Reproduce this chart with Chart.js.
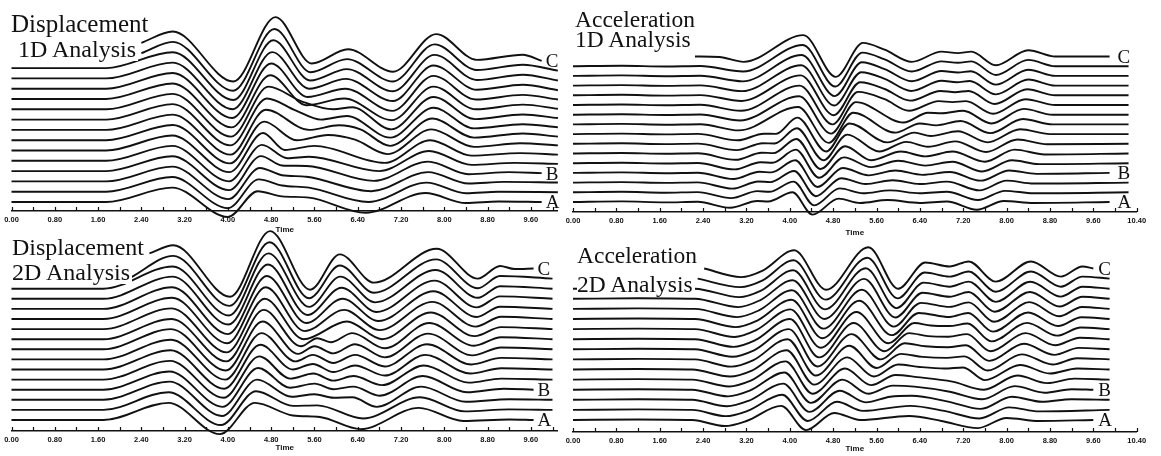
<!DOCTYPE html>
<html>
<head>
<meta charset="utf-8">
<script src="https://cdn.jsdelivr.net/npm/chart.js@4.4.1/dist/chart.umd.min.js"></script>
<style>
  html, body { margin: 0; background: #fff; }
  #page { position: relative; width: 1161px; height: 456px; overflow: hidden; background: #fff; }
  #page canvas { position: absolute; }
  .head { position: absolute; font-family: "Liberation Serif", "DejaVu Serif", serif; color: #111;
          background: #fff; white-space: nowrap; padding-right: 2px; }
  .tag { position: absolute; font-family: "Liberation Serif", "DejaVu Serif", serif; color: #111;
         font-size: 19px; line-height: 19px; white-space: nowrap; }
</style>
</head>
<body>
<div id="page"></div>
<script>
// ---------------- DATA ----------------
// each trace is a list of [time (s), amplitude],
// amplitude in units of the trace spacing; trace 0 = A (bottom), 15 = C (top)
const displ1D = [
  [[0,0],[1.75,0],[2.97,1.4],[4.0,-1.45],[4.55,1.05],[5.0,0.55],[5.5,0.42],[6.55,-1.05],[7.65,0.87],[8.4,-0.1],[9.0,0.05],[9.8,0]],
  [[0,0],[1.75,0],[2.97,1.42],[4.0,-1.6],[4.57,1.2],[5.0,0.6],[5.5,0.4],[6.6,-1.0],[7.67,0.88],[8.4,-0.15],[9.0,0],[10.1,-0.05]],
  [[0,0],[1.75,0],[2.97,1.43],[4.01,-1.72],[4.59,1.3],[5.0,0.6],[5.45,0.45],[6.65,-0.95],[7.7,0.9],[8.45,-0.2],[9.1,-0.05],[10.1,-0.1]],
  [[0,0],[1.75,0],[2.97,1.44],[4.02,-1.85],[4.61,1.45],[5.0,0.55],[5.45,0.5],[6.7,-0.95],[7.7,0.92],[8.45,-0.3],[9.2,-0.1],[9.8,-0.2]],
  [[0,0],[1.75,0],[2.97,1.45],[4.02,-2.0],[4.63,1.55],[5.1,0.25],[5.5,0.4],[6.8,-1.0],[7.72,0.95],[8.5,-0.4],[9.3,-0.2],[10.1,-0.3]],
  [[0,0],[1.75,0],[2.97,1.46],[4.03,-2.1],[4.65,1.7],[5.05,0.05],[5.6,0.45],[6.9,-1.2],[7.74,1.0],[8.5,-0.5],[9.4,-0.25],[10.1,-0.4]],
  [[0,0],[1.75,0],[2.98,1.47],[4.04,-2.25],[4.67,1.8],[5.27,0.0],[5.85,0.5],[6.35,0.05],[6.95,-1.35],[7.76,1.05],[8.55,-0.65],[9.4,-0.3],[10.1,-0.5]],
  [[0,0],[1.75,0],[2.98,1.48],[4.05,-2.4],[4.7,1.95],[5.5,0.0],[6.05,0.45],[6.45,0.05],[7.0,-1.55],[7.78,1.1],[8.55,-0.75],[9.45,-0.35],[10.1,-0.65]],
  [[0,0],[1.75,0],[2.98,1.5],[4.05,-2.5],[4.72,2.05],[5.25,0.9],[5.72,0.0],[6.2,0.35],[7.0,-1.75],[7.8,1.15],[8.55,-0.85],[9.45,-0.45],[10.1,-0.75]],
  [[0,0],[1.75,0],[2.98,1.5],[4.06,-2.65],[4.75,2.2],[5.35,0.8],[5.95,0.0],[6.3,0.2],[7.02,-1.95],[7.8,1.2],[8.57,-0.95],[9.45,-0.5],[10.1,-0.85]],
  [[0,0],[1.75,0],[2.98,1.51],[4.07,-2.75],[4.78,2.3],[5.45,-0.6],[6.15,0.05],[7.03,-2.05],[7.8,1.2],[8.58,-1.0],[9.45,-0.55],[10.1,-0.95]],
  [[0,0],[1.75,0],[2.98,1.52],[4.08,-2.85],[4.8,2.45],[5.47,-0.8],[6.17,0.0],[7.04,-2.15],[7.8,1.25],[8.58,-1.05],[9.45,-0.6],[10.1,-1.05]],
  [[0,0],[1.75,0],[2.98,1.53],[4.09,-3.0],[4.82,2.55],[5.5,-1.0],[6.18,-0.05],[7.05,-2.2],[7.8,1.25],[8.6,-1.1],[9.45,-0.62],[10.1,-1.15]],
  [[0,0],[1.75,0],[2.98,1.54],[4.1,-3.1],[4.84,2.7],[5.52,-1.2],[6.2,-0.1],[7.05,-2.25],[7.82,1.28],[8.6,-1.15],[9.45,-0.65],[10.1,-1.2]],
  [[2.4,0.45],[2.98,1.55],[4.1,-3.2],[4.86,2.8],[5.53,-1.4],[6.2,-0.13],[7.05,-2.3],[7.82,1.3],[8.6,-1.18],[9.45,-0.68],[10.1,-1.25]],
  [[2.4,0.45],[2.98,1.55],[4.1,-3.3],[4.88,2.95],[5.55,-1.55],[6.22,-0.17],[7.05,-2.35],[7.85,1.3],[8.6,-1.2],[9.45,-0.7],[9.8,-1.3]]
];

const accel1D = [
  [[0,0],[0.9,0.06],[1.7,-0.04],[2.3,0.02],[2.9,-0.6],[3.4,0.1],[3.6,0.05],[4.05,1.0],[4.42,-1.3],[4.9,0.35],[5.3,-0.1],[5.8,0.2],[6.4,-0.1],[6.9,0.05],[7.45,-0.8],[7.95,0.1],[8.5,-0.1],[9.9,0]],
  [[0,0],[0.9,0.05],[1.7,-0.04],[2.3,0.02],[2.92,-0.6],[3.4,0.12],[3.62,0.05],[4.07,1.1],[4.45,-1.35],[4.92,0.4],[5.35,-0.1],[5.85,0.2],[6.4,-0.1],[6.9,0.05],[7.47,-0.8],[7.97,0.15],[8.5,-0.1],[10.25,0]],
  [[0,0],[0.9,0.05],[1.7,-0.03],[2.3,0.02],[2.94,-0.62],[3.42,0.12],[3.64,0.05],[4.08,1.2],[4.48,-1.4],[4.95,0.45],[5.4,-0.15],[5.9,0.25],[6.4,-0.15],[6.9,0.1],[7.5,-0.8],[8.0,0.2],[8.5,-0.1],[10.25,0]],
  [[0,0],[0.9,0.05],[1.7,-0.03],[2.3,0.02],[2.96,-0.63],[3.44,0.12],[3.66,0.05],[4.1,1.3],[4.51,-1.45],[4.98,0.5],[5.45,-0.25],[5.95,0.25],[6.45,-0.2],[6.95,0.1],[7.52,-0.8],[8.05,0.25],[8.55,-0.1],[9.9,0]],
  [[0,0],[0.9,0.05],[1.7,-0.03],[2.3,0.02],[2.98,-0.64],[3.46,0.1],[3.68,0.05],[4.11,1.4],[4.54,-1.5],[5.0,0.6],[5.5,-0.4],[6.0,0.25],[6.5,-0.25],[7.0,0.15],[7.55,-0.85],[8.1,0.3],[8.6,-0.1],[10.25,0]],
  [[0,0],[0.9,0.05],[1.7,-0.03],[2.3,0.02],[3.0,-0.65],[3.48,0.08],[3.7,0.04],[4.12,1.5],[4.57,-1.6],[5.02,0.75],[5.5,-0.7],[6.05,0.2],[6.5,-0.3],[7.0,0.2],[7.6,-0.85],[8.15,0.4],[8.7,-0.1],[10.25,0]],
  [[0,0],[0.9,0.05],[1.7,-0.03],[2.3,0.02],[3.02,-0.65],[3.5,0.06],[3.72,0.03],[4.13,1.6],[4.62,-1.7],[5.06,0.95],[5.65,-0.8],[6.15,0.2],[6.55,-0.3],[7.05,0.25],[7.62,-0.85],[8.2,0.45],[8.75,-0.05],[10.25,0]],
  [[0,0],[0.9,0.05],[1.7,-0.03],[2.3,0.02],[3.04,-0.64],[3.52,0.04],[3.74,0.02],[4.14,1.7],[4.67,-1.8],[5.1,1.1],[5.8,-0.85],[6.3,0.15],[6.6,-0.2],[7.1,0.3],[7.65,-0.85],[8.25,0.5],[8.8,0],[10.25,0]],
  [[0,0],[0.9,0.05],[1.7,-0.03],[2.35,0.02],[3.06,-0.62],[4.15,1.8],[4.72,-1.9],[5.17,1.2],[5.95,-0.85],[6.4,0.1],[6.7,-0.1],[7.15,0.35],[7.7,-0.9],[8.3,0.55],[8.85,0],[10.25,0]],
  [[0,0],[0.9,0.05],[1.7,-0.03],[2.35,0.02],[3.08,-0.6],[4.17,1.9],[4.76,-1.95],[5.22,1.3],[6.1,-0.8],[6.55,0.2],[6.8,0.15],[7.2,0.4],[7.72,-0.9],[8.32,0.6],[8.85,0],[10.25,0]],
  [[0,0],[0.9,0.05],[1.7,-0.03],[2.35,0.02],[3.1,-0.6],[4.18,2.0],[4.79,-2.0],[5.26,1.35],[5.75,0.6],[6.2,-0.6],[6.75,0.4],[7.0,0.3],[7.25,0.4],[7.75,-0.9],[8.35,0.6],[8.9,0],[10.25,0]],
  [[0,0],[0.9,0.05],[1.7,-0.03],[2.35,0.02],[3.11,-0.58],[4.2,2.05],[4.81,-2.05],[5.3,1.35],[5.75,0.65],[6.22,-0.55],[6.78,0.45],[7.05,0.32],[7.3,0.45],[7.78,-0.9],[8.38,0.62],[8.9,0],[10.25,0]],
  [[0,0],[0.9,0.05],[1.7,-0.03],[2.35,0.02],[3.12,-0.57],[4.21,2.1],[4.82,-2.05],[5.32,1.38],[5.75,0.7],[6.24,-0.55],[6.8,0.5],[7.08,0.34],[7.32,0.47],[7.8,-0.9],[8.4,0.63],[8.9,0],[10.25,0]],
  [[0,0],[0.9,0.05],[1.7,-0.03],[2.35,0.02],[3.13,-0.56],[4.22,2.15],[4.83,-2.08],[5.33,1.4],[5.75,0.7],[6.25,-0.55],[6.8,0.5],[7.1,0.35],[7.34,0.48],[7.8,-0.9],[8.4,0.64],[8.9,0],[10.25,0]],
  [[0,0],[0.9,0.05],[1.7,-0.03],[2.35,0.02],[3.14,-0.55],[4.24,2.18],[4.84,-2.1],[5.34,1.4],[5.75,0.7],[6.25,-0.55],[6.8,0.5],[7.1,0.35],[7.35,0.5],[7.8,-0.9],[8.4,0.65],[8.9,0],[10.25,0]],
  [[2.25,0],[2.7,-0.05],[3.15,-0.55],[4.25,2.2],[4.85,-2.1],[5.35,1.4],[5.75,0.7],[6.25,-0.55],[6.8,0.5],[7.1,0.35],[7.35,0.5],[7.8,-0.9],[8.4,0.65],[8.9,0],[9.9,0]]
];

const displ2D = [
  [[0,0],[1.7,0],[2.9,1.7],[3.85,-1.4],[4.5,1.7],[5.2,0.45],[5.7,0.3],[6.45,-0.9],[7.53,1.2],[8.35,-0.1],[9.2,0.05],[9.65,0]],
  [[0,0],[1.7,0],[2.9,1.75],[3.87,-1.5],[4.52,1.85],[5.2,0.4],[5.65,0.45],[6.5,-0.85],[7.55,1.25],[8.38,-0.15],[9.2,0.05],[10.0,0]],
  [[0,0],[1.7,0],[2.92,1.8],[3.89,-1.6],[4.54,2.0],[5.18,0.3],[5.6,0.55],[5.95,0.2],[6.3,0.25],[6.75,-0.7],[7.57,1.3],[8.4,-0.2],[9.2,0.05],[10.0,0]],
  [[0,0],[1.7,0],[2.92,1.8],[3.9,-1.7],[4.56,2.15],[5.15,0.2],[5.6,0.6],[5.95,0.05],[6.32,0.3],[6.8,-0.6],[7.6,1.35],[8.42,-0.25],[9.1,0.1],[9.65,0]],
  [[0,0],[1.7,0],[2.93,1.85],[3.92,-1.8],[4.58,2.3],[5.15,0.1],[5.58,0.6],[5.95,-0.1],[6.32,0.35],[6.85,-0.55],[7.62,1.4],[8.45,-0.3],[9.05,0.1],[10.0,0]],
  [[0,0],[1.7,0],[2.94,1.9],[3.93,-1.9],[4.6,2.45],[5.2,0.0],[5.57,0.55],[5.95,-0.25],[6.35,0.4],[6.9,-0.6],[7.65,1.45],[8.48,-0.4],[9.05,0.12],[10.0,0]],
  [[0,0],[1.7,0],[2.95,1.95],[3.95,-2.0],[4.62,2.6],[5.25,-0.2],[5.57,0.45],[5.95,-0.35],[6.35,0.45],[6.9,-0.7],[7.68,1.5],[8.5,-0.5],[9.05,0.15],[10.0,0]],
  [[0,0],[1.7,0],[2.95,2.0],[3.96,-2.1],[4.64,2.75],[5.3,-0.45],[5.6,0.3],[5.95,-0.4],[6.35,0.5],[6.9,-0.8],[7.7,1.55],[8.52,-0.6],[9.05,0.18],[10.0,0]],
  [[0,0],[1.7,0],[2.96,2.0],[3.97,-2.2],[4.66,2.9],[5.35,-0.7],[5.65,0.1],[5.9,-0.3],[6.3,0.6],[6.9,-0.9],[7.72,1.6],[8.55,-0.65],[9.05,0.2],[10.0,0]],
  [[0,0],[1.7,0],[2.96,2.05],[3.98,-2.3],[4.68,3.0],[5.4,-1.0],[6.2,0.75],[6.85,-1.0],[7.75,1.65],[8.56,-0.7],[9.05,0.2],[10.0,0]],
  [[0,0],[1.7,0],[2.97,2.1],[3.99,-2.4],[4.7,3.15],[5.42,-1.2],[6.15,0.9],[6.8,-1.1],[7.78,1.7],[8.58,-0.75],[9.05,0.22],[10.0,0]],
  [[0,0],[1.7,0],[2.97,2.15],[4.0,-2.5],[4.72,3.25],[5.45,-1.4],[6.12,1.0],[6.78,-1.2],[7.8,1.75],[8.6,-0.8],[9.03,0.22],[10.0,0]],
  [[0,0],[1.7,0],[2.98,2.2],[4.01,-2.55],[4.74,3.4],[5.47,-1.6],[6.1,1.1],[6.75,-1.3],[7.82,1.8],[8.6,-0.85],[9.03,0.24],[10.0,0]],
  [[0,0],[1.7,0],[2.98,2.2],[4.02,-2.65],[4.75,3.5],[5.5,-1.8],[6.08,1.2],[6.72,-1.35],[7.84,1.85],[8.62,-0.9],[9.03,0.25],[10.0,0]],
  [[2.2,0.1],[2.99,2.25],[4.03,-2.7],[4.77,3.6],[5.5,-1.95],[6.07,1.3],[6.7,-1.4],[7.85,1.9],[8.62,-0.95],[9.03,0.25],[10.0,0]],
  [[2.55,1.5],[2.99,2.3],[4.04,-2.8],[4.78,3.7],[5.52,-2.1],[6.07,1.4],[6.7,-1.4],[7.86,1.95],[8.62,-1.0],[9.03,0.25],[9.3,-0.05],[9.65,0]]
];

const accel2D = [
  [[0,0],[1.2,0.05],[2.2,0],[2.8,-0.6],[3.2,-0.1],[3.84,1.4],[4.3,-1.0],[4.82,0.7],[5.3,0.0],[6.2,0.4],[6.8,-0.1],[7.47,-0.8],[8.0,0.2],[8.6,-0.1],[9.6,0]],
  [[0,0],[1.2,0.05],[2.2,0],[2.82,-0.62],[3.22,-0.1],[3.86,1.5],[4.33,-1.1],[4.87,0.8],[5.35,-0.1],[6.22,0.4],[6.85,-0.1],[7.5,-0.85],[8.05,0.25],[8.6,-0.15],[9.9,0]],
  [[0,0],[1.2,0.05],[2.2,0],[2.84,-0.64],[3.24,-0.1],[3.88,1.6],[4.36,-1.2],[4.92,0.9],[5.4,-0.25],[5.85,0.3],[6.25,0.4],[6.9,-0.15],[7.52,-0.9],[8.1,0.3],[8.65,-0.2],[9.2,0.05],[9.9,0]],
  [[0,0],[1.2,0.05],[2.2,0],[2.86,-0.66],[3.26,-0.1],[3.9,1.7],[4.39,-1.3],[4.97,1.0],[5.45,-0.4],[5.9,0.4],[6.3,0.3],[6.95,-0.2],[7.55,-0.95],[8.15,0.35],[8.7,-0.3],[9.2,0.05],[9.6,0]],
  [[0,0],[1.2,0.05],[2.2,0],[2.88,-0.68],[3.28,-0.1],[3.92,1.8],[4.42,-1.4],[5.02,1.1],[5.5,-0.55],[5.95,0.45],[6.35,0.25],[7.0,-0.2],[7.58,-1.0],[8.2,0.4],[8.75,-0.35],[9.25,0.1],[9.9,0]],
  [[0,0],[1.2,0.05],[2.2,0],[2.9,-0.7],[3.3,-0.1],[3.94,1.9],[4.45,-1.5],[5.06,1.2],[5.55,-0.7],[6.0,0.5],[6.4,0.25],[6.85,0.1],[7.2,0.2],[7.6,-1.05],[8.25,0.45],[8.8,-0.4],[9.3,0.1],[9.9,0]],
  [[0,0],[1.2,0.05],[2.25,0],[2.92,-0.72],[3.32,-0.1],[3.96,2.0],[4.48,-1.6],[5.1,1.35],[5.6,-0.85],[6.05,0.55],[6.45,0.25],[6.9,0.15],[7.22,0.3],[7.65,-1.1],[8.28,0.5],[8.85,-0.5],[9.3,0.12],[9.9,0]],
  [[0,0],[1.2,0.05],[2.25,0],[2.94,-0.74],[3.34,-0.1],[3.98,2.0],[4.51,-1.7],[5.14,1.5],[5.68,-1.0],[6.12,0.6],[6.5,0.3],[6.92,0.2],[7.25,0.4],[7.68,-1.15],[8.32,0.55],[8.88,-0.55],[9.33,0.14],[9.9,0]],
  [[0,0],[1.2,0.05],[2.25,0],[2.96,-0.76],[3.36,-0.1],[4.0,2.0],[4.54,-1.8],[5.18,1.6],[5.75,-1.2],[6.2,0.6],[6.55,0.3],[6.93,0.25],[7.27,0.5],[7.7,-1.2],[8.35,0.6],[8.9,-0.6],[9.35,0.15],[9.9,0]],
  [[0,0],[1.2,0.05],[2.25,0],[2.98,-0.78],[3.38,-0.1],[4.01,1.95],[4.57,-1.85],[5.23,1.7],[5.82,-1.4],[6.3,0.6],[6.6,0.35],[6.94,0.3],[7.28,0.55],[7.72,-1.22],[8.38,0.62],[8.93,-0.65],[9.37,0.16],[9.9,0]],
  [[0,0],[1.2,0.05],[2.25,0],[3.0,-0.8],[3.4,-0.15],[4.03,1.9],[4.6,-1.9],[5.28,1.8],[5.88,-1.6],[6.38,0.6],[6.95,0.2],[7.29,0.6],[7.75,-1.25],[8.4,0.65],[8.95,-0.7],[9.38,0.18],[9.9,0]],
  [[0,0],[1.2,0.05],[2.25,0],[3.03,-0.81],[3.43,-0.15],[4.04,1.85],[4.62,-1.95],[5.33,1.9],[5.92,-1.75],[6.42,0.6],[6.95,0.2],[7.3,0.65],[7.77,-1.27],[8.42,0.67],[8.97,-0.73],[9.39,0.19],[9.9,0]],
  [[0,0],[1.2,0.05],[2.25,0],[3.05,-0.82],[3.45,-0.15],[4.05,1.83],[4.64,-2.0],[5.37,1.97],[5.95,-1.85],[6.45,0.6],[6.95,0.2],[7.3,0.68],[7.78,-1.28],[8.43,0.68],[8.98,-0.76],[9.4,0.2],[9.9,0]],
  [[0,0],[1.2,0.05],[2.25,0],[3.07,-0.83],[3.47,-0.18],[4.06,1.82],[4.65,-2.05],[5.4,2.03],[5.97,-1.92],[6.47,0.6],[6.95,0.2],[7.3,0.7],[7.8,-1.3],[8.44,0.69],[9.0,-0.78],[9.4,0.2],[9.9,0]],
  [[2.3,0],[3.09,-0.84],[3.49,-0.2],[4.07,1.81],[4.66,-2.08],[5.43,2.07],[5.99,-1.96],[6.49,0.6],[6.95,0.2],[7.3,0.7],[7.8,-1.3],[8.45,0.7],[9.0,-0.8],[9.4,0.2],[9.9,0]],
  [[2.42,0],[3.1,-0.85],[3.5,-0.2],[4.08,1.8],[4.67,-2.1],[5.45,2.1],[6.0,-2.0],[6.5,0.6],[6.95,0.2],[7.3,0.7],[7.8,-1.3],[8.45,0.7],[9.0,-0.8],[9.4,0.2],[9.6,0]]
];

const traceLabels = ["A", "B", "C"];
const labelledTraces = [0, 3, 15];
const panelTitles = [
  ["Displacement", "1D Analysis"],
  ["Acceleration", "1D Analysis"],
  ["Displacement", "2D Analysis"],
  ["Acceleration", "2D Analysis"]
];
const tickStep = 0.4;      // small ticks; every second one gets a label
const axisTitle = "Time";

// ---------------- PANEL LAYOUT (pixels of the 1161x456 page) ----------------
const panels = [
  { data: displ1D, left: 0, top: 0, width: 572, x0: 11.5, pxPerSec: 54.1, xMax: 10.1, tagGap: 4,
    axisY: 211, baseA: 202, unit: 10.3, axisH: 24, heads: [[11, 32, 25], [18, 57, 24]] },
  { data: accel1D, left: 558, top: 0, width: 603, x0: 573, pxPerSec: 54.2, xMax: 10.4, tagGap: 8,
    axisY: 212, baseA: 202, unit: 9.7, axisH: 26, heads: [[575, 28, 23.5], [575, 48, 23.5]] },
  { data: displ2D, left: 0, top: 228, width: 572, x0: 11.5, pxPerSec: 54.1, xMax: 10.1, tagGap: 4,
    axisY: 431, baseA: 420, unit: 10.1, axisH: 22, heads: [[12, 255, 24], [12, 280, 24]] },
  { data: accel2D, left: 558, top: 228, width: 603, x0: 573, pxPerSec: 54.2, xMax: 10.4, tagGap: 5,
    axisY: 432, baseA: 420, unit: 10.1, axisH: 22, heads: [[577, 264, 23.5], [577, 293, 23.5]] }
];

// tick marks pointing up from the time axis
const upTicks = {
  id: "upTicks",
  afterDraw(chart) {
    const sx = chart.scales.x;
    const ctx = chart.ctx;
    ctx.save();
    ctx.strokeStyle = "#111";
    ctx.lineWidth = 1.2;
    sx.ticks.forEach(t => {
      const px = Math.round(sx.getPixelForValue(t.value)) + 0.5;
      ctx.beginPath();
      ctx.moveTo(px, sx.top);
      ctx.lineTo(px, sx.top - 4);
      ctx.stroke();
    });
    ctx.restore();
  }
};

const page = document.getElementById("page");

panels.forEach((p, k) => {
  const cv = document.createElement("canvas");
  const h = p.axisY - p.top + p.axisH;
  cv.width = p.width;
  cv.height = h;
  cv.style.left = p.left + "px";
  cv.style.top = p.top + "px";
  cv.style.width = p.width + "px";
  cv.style.height = h + "px";
  page.appendChild(cv);

  const chartRight = p.x0 + p.pxPerSec * p.xMax;

  // trace i sits i spacings above trace A
  const datasets = p.data.map((trace, i) => ({
    data: trace.map(([t, v]) => ({ x: t, y: i + v })),
    borderColor: "#111",
    borderWidth: 1.9,
    pointRadius: 0,
    fill: false,
    cubicInterpolationMode: "monotone",
    clip: false
  }));

  const chart = new Chart(cv, {
    type: "line",
    data: { datasets },
    options: {
      responsive: false,
      animation: false,
      events: [],
      layout: { padding: { left: p.x0 - p.left, right: p.left + p.width - chartRight, top: 0, bottom: 0 } },
      plugins: { legend: { display: false }, tooltip: { enabled: false } },
      scales: {
        x: {
          type: "linear",
          min: 0,
          max: p.xMax,
          grid: { display: false, drawTicks: false },
          border: { display: true, color: "#111", width: 1.5 },
          ticks: {
            stepSize: tickStep,
            includeBounds: false,
            autoSkip: false,
            maxRotation: 0,
            padding: 4,
            color: "#111",
            font: { family: "Liberation Sans", size: 7.5, weight: "bold" },
            callback: v => {
              const n = Math.round(v / tickStep);
              return n % 2 === 0 ? (n * tickStep).toFixed(2) : "";
            }
          },
          title: {
            display: true,
            text: axisTitle,
            color: "#111",
            padding: 0,
            font: { family: "Liberation Sans", size: 8, weight: "bold" }
          },
          afterFit: s => { s.height = p.axisH; }
        },
        y: {
          display: false,
          min: -(p.axisY - p.baseA) / p.unit,
          max: (p.baseA - p.top) / p.unit
        }
      }
    },
    plugins: [upTicks]
  });

  // panel headings
  panelTitles[k].forEach((txt, j) => {
    const [lx, base, size] = p.heads[j];
    const d = document.createElement("div");
    d.className = "head";
    d.textContent = txt;
    d.style.fontSize = size + "px";
    d.style.lineHeight = size + "px";
    d.style.left = lx + "px";
    d.style.top = (base - 0.8375 * size) + "px";
    page.appendChild(d);
  });

  // A / B / C tags at the end of their traces
  labelledTraces.forEach((i, j) => {
    const last = p.data[i][p.data[i].length - 1];
    const px = chart.scales.x.getPixelForValue(last[0]) + p.left + p.tagGap;
    const py = chart.scales.y.getPixelForValue(i + last[1]) + p.top;
    const d = document.createElement("div");
    d.className = "tag";
    d.textContent = traceLabels[j];
    d.style.left = px + "px";
    d.style.top = (py - 9.6) + "px";
    page.appendChild(d);
  });
});
</script>
</body>
</html>
